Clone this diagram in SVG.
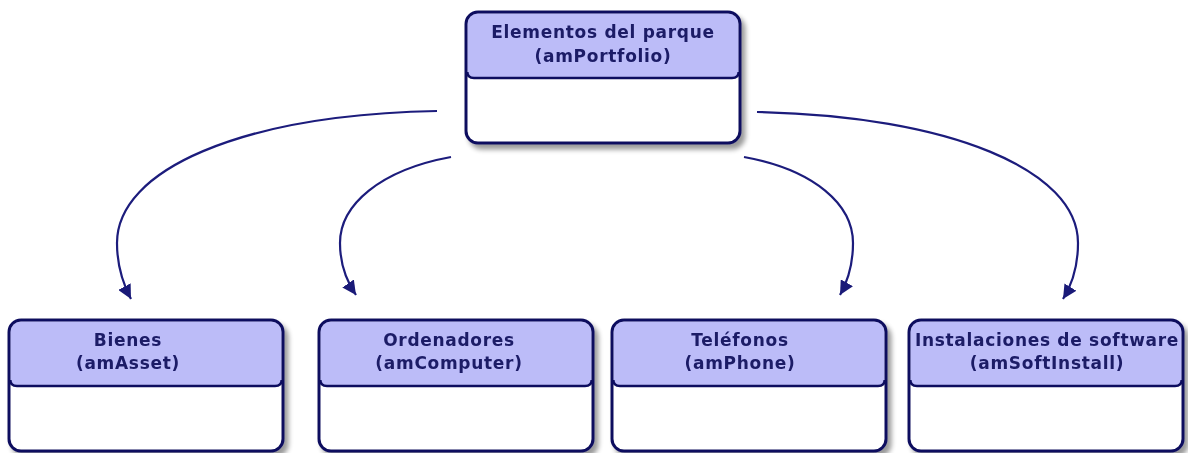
<svg xmlns="http://www.w3.org/2000/svg" width="1188" height="453" viewBox="0 0 1188 453">
<defs>
<filter id="sh" x="-10%" y="-10%" width="130%" height="130%">
<feGaussianBlur in="SourceAlpha" stdDeviation="2.5"/>
<feOffset dx="4" dy="5" result="b"/>
<feComponentTransfer><feFuncA type="linear" slope="0.4"/></feComponentTransfer>
<feMerge><feMergeNode/><feMergeNode in="SourceGraphic"/></feMerge>
</filter>
<marker id="ah" markerUnits="userSpaceOnUse" markerWidth="16" markerHeight="14" refX="14" refY="7" orient="auto">
<path d="M0,0 L14,7 L0,14 z" fill="#1a1a78"/>
</marker>
<g id="box">
<rect x="0" y="0" width="274" height="131" rx="12" fill="#ffffff"/>
<path d="M1.3,12 A11,11 0 0 1 12,1.3 L262,1.3 A11,11 0 0 1 272.7,12 L272.7,60 Q272.7,66 266,66 L8,66 Q1.3,66 1.3,60 Z" fill="#bcbcf8"/>
<rect x="0" y="0" width="274" height="131" rx="12" fill="none" stroke="#10105e" stroke-width="3"/>
<path d="M1.3,60 Q1.3,66 8,66 L266,66 Q272.7,66 272.7,60" fill="none" stroke="#10105e" stroke-width="2.6"/>
</g>
</defs>
<style>
text{font-family:"DejaVu Sans","Verdana",sans-serif;font-weight:bold;font-size:17px;fill:#1a1a66;text-anchor:middle;letter-spacing:0.7px}
.c{fill:none;stroke:#1c1c7c;stroke-width:2.2;marker-end:url(#ah)}
</style>
<g id="connectors">
<path class="c" d="M437,111 C240,115 117,170 117,243 C117,264 122,282 131,299"/>
<path class="c" d="M451,157 C380,170 340,205 340,243 C340,262 345,279 356,295"/>
<path class="c" d="M744,157 C815,170 853,205 853,243 C853,262 849,279 840,295"/>
<path class="c" d="M757,112 C950,116 1078,170 1078,243 C1078,265 1073,283 1063,299"/>
</g>
<g id="amPortfolio" filter="url(#sh)">
<use href="#box" x="466" y="12"/>
<text x="603" y="38">Elementos del parque</text>
<text x="603" y="62">(amPortfolio)</text>
</g>
<g id="amAsset" filter="url(#sh)">
<use href="#box" x="9" y="320"/>
<text x="128" y="346">Bienes</text>
<text x="128" y="369">(amAsset)</text>
</g>
<g id="amComputer" filter="url(#sh)">
<use href="#box" x="319" y="320"/>
<text x="449" y="346">Ordenadores</text>
<text x="449" y="369">(amComputer)</text>
</g>
<g id="amPhone" filter="url(#sh)">
<use href="#box" x="612" y="320"/>
<text x="740" y="346">Teléfonos</text>
<text x="740" y="369">(amPhone)</text>
</g>
<g id="amSoftInstall" filter="url(#sh)">
<use href="#box" x="909" y="320"/>
<text x="1047" y="346">Instalaciones de software</text>
<text x="1047" y="369">(amSoftInstall)</text>
</g>
</svg>
